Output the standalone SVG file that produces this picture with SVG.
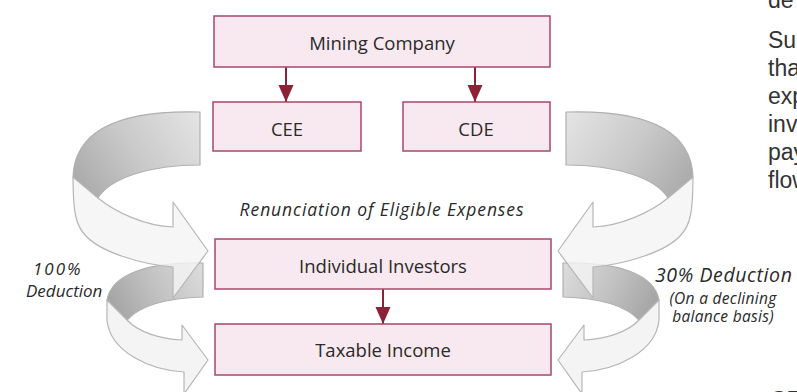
<svg xmlns="http://www.w3.org/2000/svg" xmlns:xlink="http://www.w3.org/1999/xlink" width="797" height="392" viewBox="0 0 797 392">
  <style>
    .box { fill: #f7e9ef; stroke: #a9476a; stroke-width: 1.5; }
    .lbl { font-family: "Open Sans", "Noto Sans", sans-serif; font-size: 18.5px; fill: #2a2a2a; text-anchor: middle; }
    .ital { font-family: "Open Sans", "Noto Sans", sans-serif; font-style: italic; fill: #2a2a2a; }
    .body { font-family: "Liberation Sans", Arial, sans-serif; font-size: 23px; fill: #333333; }
    .conn { stroke: #8c2236; stroke-width: 2; fill: none; }
    .face { fill: #f4f4f4; stroke: #b6b6b6; stroke-width: 1.2; stroke-linejoin: round; }
    .band { stroke: #b0b0b0; stroke-width: 1.2; stroke-linejoin: round; }
  </style>
  <defs>
    <marker id="ah" markerUnits="userSpaceOnUse" markerWidth="18" markerHeight="16" refX="17" refY="7.5" orient="auto">
      <path d="M0,0 L17,7.5 L0,15 Z" fill="#8c2236"/>
    </marker>
    <linearGradient id="bandUp" gradientUnits="userSpaceOnUse" x1="200" y1="115" x2="85" y2="190">
      <stop offset="0" stop-color="#e4e4e4"/>
      <stop offset="0.55" stop-color="#c9c9c9"/>
      <stop offset="1" stop-color="#acacac"/>
    </linearGradient>
    <linearGradient id="bandLow" gradientUnits="userSpaceOnUse" x1="203" y1="265" x2="110" y2="312">
      <stop offset="0" stop-color="#dcdcdc"/>
      <stop offset="0.5" stop-color="#c2c2c2"/>
      <stop offset="1" stop-color="#a2a2a2"/>
    </linearGradient>
    <g id="leftRibbons">
      <path class="band" fill="url(#bandLow)" d="M203,263 C150,262 112,273 107,300 L127,320 C140,306 165,298 203,297 Z"/>
      <path class="band" fill="url(#bandUp)" d="M200,112 C130,110 75,125 73,177 L98,198 C110,178 150,165 200,165 Z"/>
      <path class="face" fill-opacity="0.82" d="M73,177 L98,198 C115,212 145,226 173,227 L173,202 L208,251 L173,298 L173,267 C140,264 100,252 85,235 C76,225 73,213 73,177 Z"/>
      <path class="face" d="M107,300 L127,320 C138,332 160,339 182,340 L182,325 L208,360 L184,394 L184,372 C150,370 110,352 107,320 Z"/>
    </g>
  </defs>

  <g id="connectors">
    <g id="ribbons">
      <use xlink:href="#leftRibbons"/>
      <use xlink:href="#leftRibbons" transform="translate(766,0) scale(-1,1)"/>
    </g>
    <line class="conn" x1="286" y1="67" x2="286" y2="102" marker-end="url(#ah)"/>
    <line class="conn" x1="475" y1="67" x2="475" y2="102" marker-end="url(#ah)"/>
    <line class="conn" x1="383" y1="289" x2="383" y2="324" marker-end="url(#ah)"/>
  </g>

  <g id="mining-company">
    <rect class="box" x="214" y="16" width="336" height="51"/>
    <text class="lbl" x="382" y="50">Mining Company</text>
  </g>
  <g id="cee">
    <rect class="box" x="213" y="102" width="148" height="49"/>
    <text class="lbl" x="287" y="136">CEE</text>
  </g>
  <g id="cde">
    <rect class="box" x="403" y="102" width="147" height="49"/>
    <text class="lbl" x="476" y="136">CDE</text>
  </g>
  <g id="individual-investors">
    <rect class="box" x="215" y="239" width="336" height="50"/>
    <text class="lbl" x="383" y="273">Individual Investors</text>
  </g>
  <g id="taxable-income">
    <rect class="box" x="215" y="324" width="336" height="51"/>
    <text class="lbl" x="383" y="357">Taxable Income</text>
  </g>

  <g id="labels">
    <text class="ital" x="382" y="216" font-size="17.5" letter-spacing="0.9" text-anchor="middle">Renunciation of Eligible Expenses</text>
    <text class="ital" x="33" y="275" font-size="17" letter-spacing="2">100%</text>
    <text class="ital" x="26" y="297" font-size="17">Deduction</text>
    <text class="ital" x="655" y="282" font-size="19.5" letter-spacing="0.6">30% Deduction</text>
    <text class="ital" x="723" y="304" font-size="15.5" letter-spacing="0.3" text-anchor="middle">(On a declining</text>
    <text class="ital" x="723" y="322" font-size="15.5" letter-spacing="0.3" text-anchor="middle">balance basis)</text>
  </g>

  <g id="page-text">
    <text class="body" x="768" y="8">de</text>
    <text class="body" x="768" y="48">Su</text>
    <text class="body" x="768" y="76">tha</text>
    <text class="body" x="768" y="104">exp</text>
    <text class="body" x="768" y="132">inv</text>
    <text class="body" x="768" y="160">pay</text>
    <text class="body" x="768" y="188">flow</text>
    <text class="body" x="770" y="408">CE</text>
  </g>
</svg>
